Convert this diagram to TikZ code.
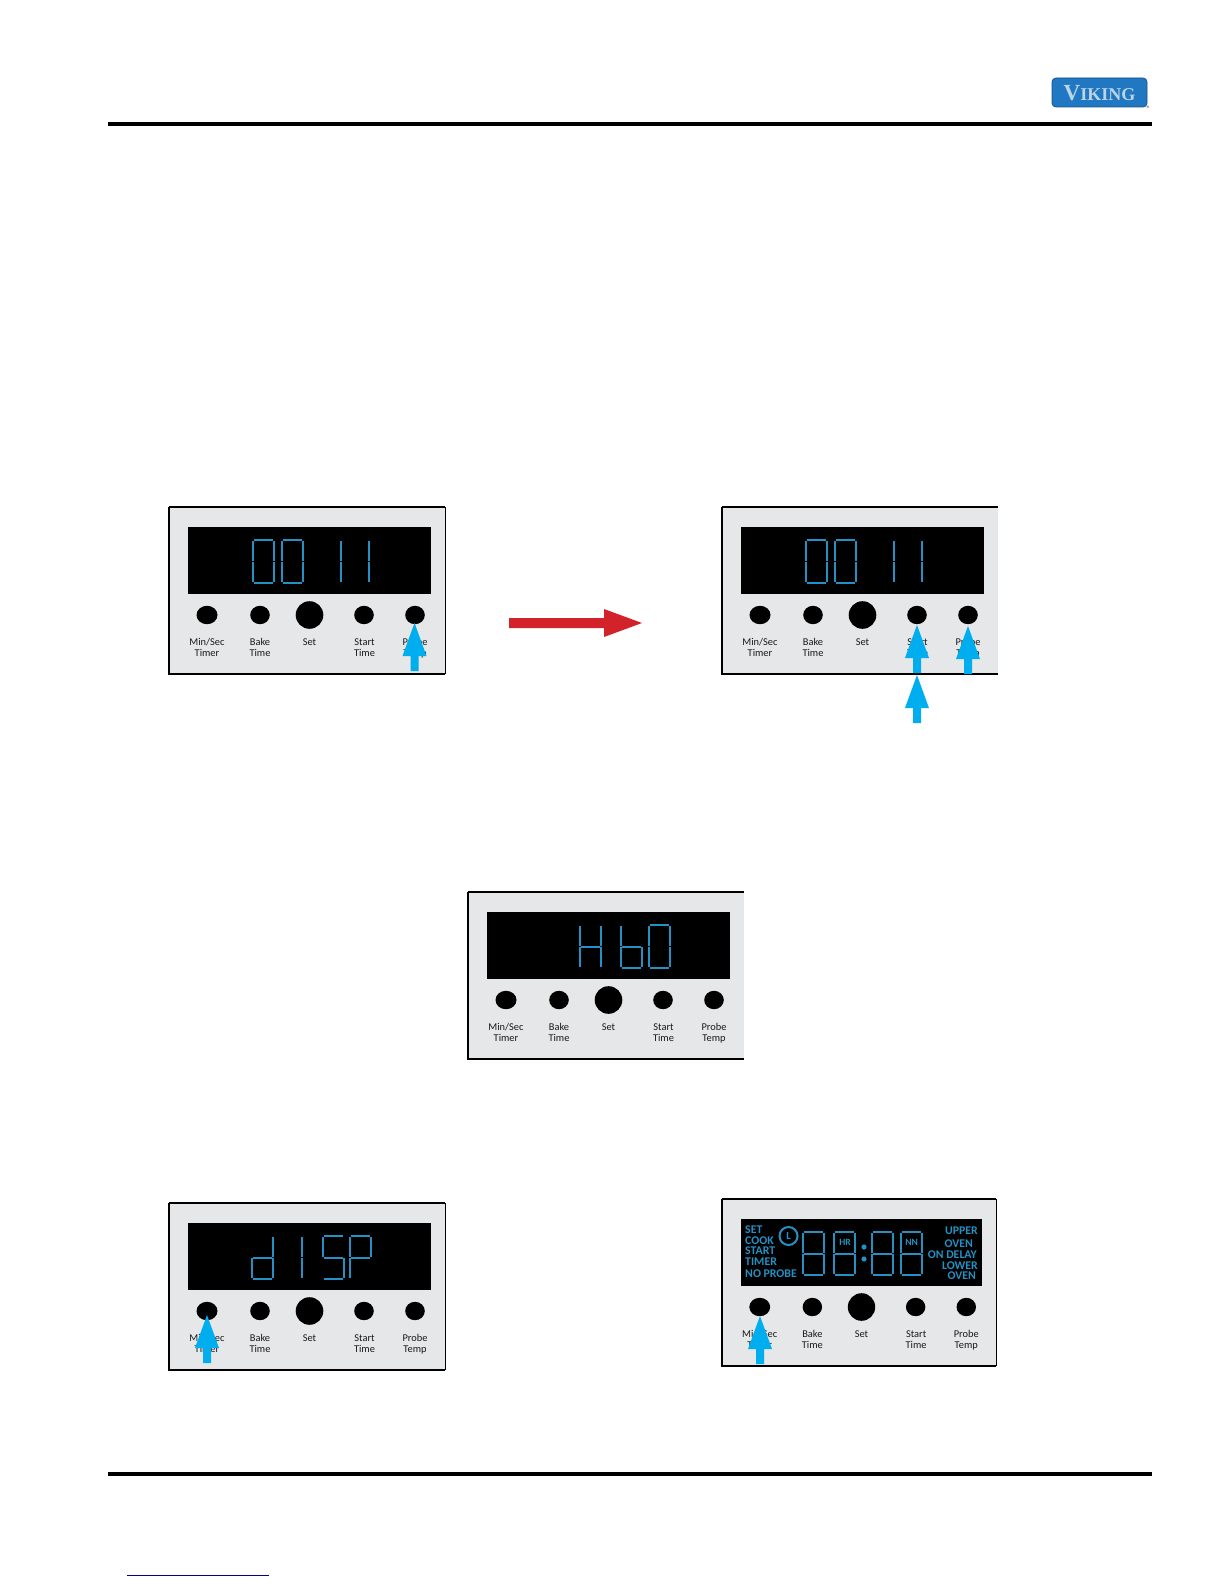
\documentclass[tikz,border=0pt]{standalone}
\usepackage{fontspec}
\setmainfont{Carlito}
\newfontfamily\logofont{Liberation Serif}

\tikzset{
  keylabel/.style={font=\fontsize{5.2}{5.5}\selectfont, text=black!90, align=center, inner sep=0pt, anchor=north},
  lcdword/.style={font=\fontsize{5.9}{5.9}\selectfont\bfseries, text=lcdblue, inner sep=0pt},
  lcdtag/.style={font=\fontsize{4.8}{5}\selectfont\bfseries, text=lcdblue, inner sep=0pt},
  segline/.style={draw=lcdblue, line width=1pt, line cap=butt},
  rulebar/.style={fill=black}
}

% seven segments of one digit, 21 wide and 43 high
\def\sega{(1,0) -- (20,0)}
\def\segb{(21,1) -- (21,21)}
\def\segc{(21,22) -- (21,42)}
\def\segd{(1,43) -- (20,43)}
\def\sege{(0,22) -- (0,42)}
\def\segf{(0,1) -- (0,21)}
\def\segg{(1,21.5) -- (20,21.5)}

\def\gzero{\sega,\segb,\segc,\segd,\sege,\segf}
\def\gone{\segb,\segc}
\def\gH{\segb,\segc,\sege,\segf,\segg}
\def\gb{\segc,\segd,\sege,\segf,\segg}
\def\gd{\segb,\segc,\segd,\sege,\segg}
\def\gS{\sega,\segc,\segd,\segf,\segg}
\def\gP{\sega,\segb,\sege,\segf,\segg}
\def\geight{\sega,\segb,\segc,\segd,\sege,\segf,\segg}

\newcommand{\glyph}[2]{%
  \begin{scope}[shift={(#1,33)}]
    \foreach \s in #2 {\draw[segline] \s;}
  \end{scope}}

% gray face, lcd window, five keys and their captions
\newcommand{\keypad}[1]{%
  \fill[facegray] (0,0) rectangle (276,167);
  \draw[black, line width=0.55pt] (0,0) -- (0,167) -- (276,167);
  \draw[black, line width=0.9pt] (-0.5,0) -- (276,0);
  \fill[black] (19,20) rectangle (262,87);
  \fill[black] (38,108) ellipse [x radius=10.5, y radius=9.2];
  \foreach \kx in {91,195,246}{%
    \fill[black] (\kx,108) ellipse [x radius=9.8, y radius=9.2];
  }
  \fill[black] (140.5,108) circle [radius=13.8];
  \node[keylabel] (#1-minsec) at (38,130) {\strut Min/Sec\\\strut Timer};
  \node[keylabel] (#1-bake) at (91,130) {\strut Bake\\\strut Time};
  \node[keylabel] (#1-set) at (140.5,130) {\strut Set};
  \node[keylabel] (#1-start) at (195.5,130) {\strut Start\\\strut Time};
  \node[keylabel] (#1-probe) at (246,130) {\strut Probe\\\strut Temp};
}

% blue press arrow, given centre x and tip y
\newcommand{\pressarrow}[2]{%
  \fill[pressblue] (#1,#2) -- ++(12,33) -- ++(-8,0) -- ++(0,15) -- ++(-8,0)
    -- ++(0,-15) -- ++(-8,0) -- cycle;
}

\begin{document}
\begin{tikzpicture}[x=0.5pt, y=-0.5pt]

\definecolor{facegray}{HTML}{E6E7E8}
\definecolor{lcdblue}{HTML}{2490C4}
\definecolor{pressblue}{HTML}{00AEEF}
\definecolor{flowred}{HTML}{D2232A}
\definecolor{logoblue}{HTML}{1F78C1}
\definecolor{logotext}{HTML}{BBD4E6}
\definecolor{linkblue}{HTML}{00008B}

\useasboundingbox (0,0) rectangle (1224,1584);

% ---- (1) header and footer rules ----
\fill[rulebar] (108,122) rectangle (1152,126);
\fill[rulebar] (108,1472) rectangle (1152,1476);
\draw[linkblue, line width=0.5pt] (127,1575) -- (269,1575);

% ---- (2) logo ----
\fill[logoblue, draw=logoblue!70!black, line width=0.4pt, rounded corners=2pt]
  (1052,78) rectangle (1147,107);
\node[font=\logofont\bfseries, text=logotext, inner sep=0pt] (logo) at (1099.5,93)
  {\fontsize{11.5}{12}\selectfont V\fontsize{9}{12}\selectfont IKING};
\node[font=\fontsize{4}{4}\selectfont, text=black!70, inner sep=0pt] (logomark) at (1148.5,109) {®};

% ---- (3) first row, two panels ----
\begin{scope}[shift={(169,507)}]
  \keypad{codeA}
  \draw[black, line width=0.5pt] (276,0) -- (276,167);
  \glyph{84}{\gzero}
  \glyph{113}{\gzero}
  \glyph{151}{\gone}
  \glyph{179}{\gone}
\end{scope}

\begin{scope}[shift={(722,507)}]
  \keypad{codeB}
  \glyph{84}{\gzero}
  \glyph{113}{\gzero}
  \glyph{151}{\gone}
  \glyph{179}{\gone}
\end{scope}

% ---- (4) red arrow between them ----
\fill[flowred] (509,618) -- (604,618) -- (604,609) -- (642,623) -- (604,637)
  -- (604,628) -- (509,628) -- cycle;

% ---- (5) middle panel ----
\begin{scope}[shift={(468,892)}]
  \keypad{model}
  \glyph{112}{\gH}
  \glyph{153}{\gb}
  \glyph{181}{\gzero}
\end{scope}

% ---- (6) last row, left panel ----
\begin{scope}[shift={(169,1203)}]
  \keypad{disp}
  \draw[black, line width=0.5pt] (276,0) -- (276,167);
  \glyph{83}{\gd}
  \glyph{112}{\gone}
  \glyph{154}{\gS}
  \glyph{181}{\gP}
\end{scope}

% ---- (7) last row, right panel with all lcd words lit ----
\begin{scope}[shift={(722,1199)}, xscale=0.993]
  \keypad{full}
  \draw[black, line width=0.5pt] (276,0) -- (276,167);
  \glyph{82}{\geight}
  \glyph{113}{\geight}
  \glyph{151}{\geight}
  \glyph{180}{\geight}
  \fill[lcdblue] (143,48) circle [radius=2.6];
  \fill[lcdblue] (143,60) circle [radius=2.6];
  \node[lcdword, anchor=west] (full-setw) at (23,31) {SET};
  \node[lcdword, anchor=west] (full-cook) at (23,42) {COOK};
  \node[lcdword, anchor=west] (full-startw) at (23,52) {START};
  \node[lcdword, anchor=west] (full-timer) at (23,63) {TIMER};
  \node[lcdword, anchor=west] (full-noprobe) at (23,75) {NO PROBE};
  \node[lcdword, anchor=east] (full-upper) at (258,32) {UPPER};
  \node[lcdword, anchor=east] (full-ovena) at (253,45) {OVEN};
  \node[lcdword, anchor=east] (full-delay) at (257,56) {ON DELAY};
  \node[lcdword, anchor=east] (full-lower) at (258,67) {LOWER};
  \node[lcdword, anchor=east] (full-ovenb) at (256,77) {OVEN};
  \node[draw=lcdblue, line width=1pt, circle, minimum size=9pt, inner sep=0pt,
        font=\fontsize{5.4}{5.5}\selectfont\bfseries, text=lcdblue] (full-clock) at (67,37) {L};
  \node[lcdtag] (full-hr) at (124,43) {HR};
  \node[lcdtag] (full-nn) at (191,43) {NN};
\end{scope}

% ---- (8) press arrows on top ----
\pressarrow{414.5}{623}
\pressarrow{917}{625}
\pressarrow{917}{675}
\pressarrow{968}{626}
\pressarrow{207}{1315}
\pressarrow{760}{1316}

\end{tikzpicture}
\end{document}
